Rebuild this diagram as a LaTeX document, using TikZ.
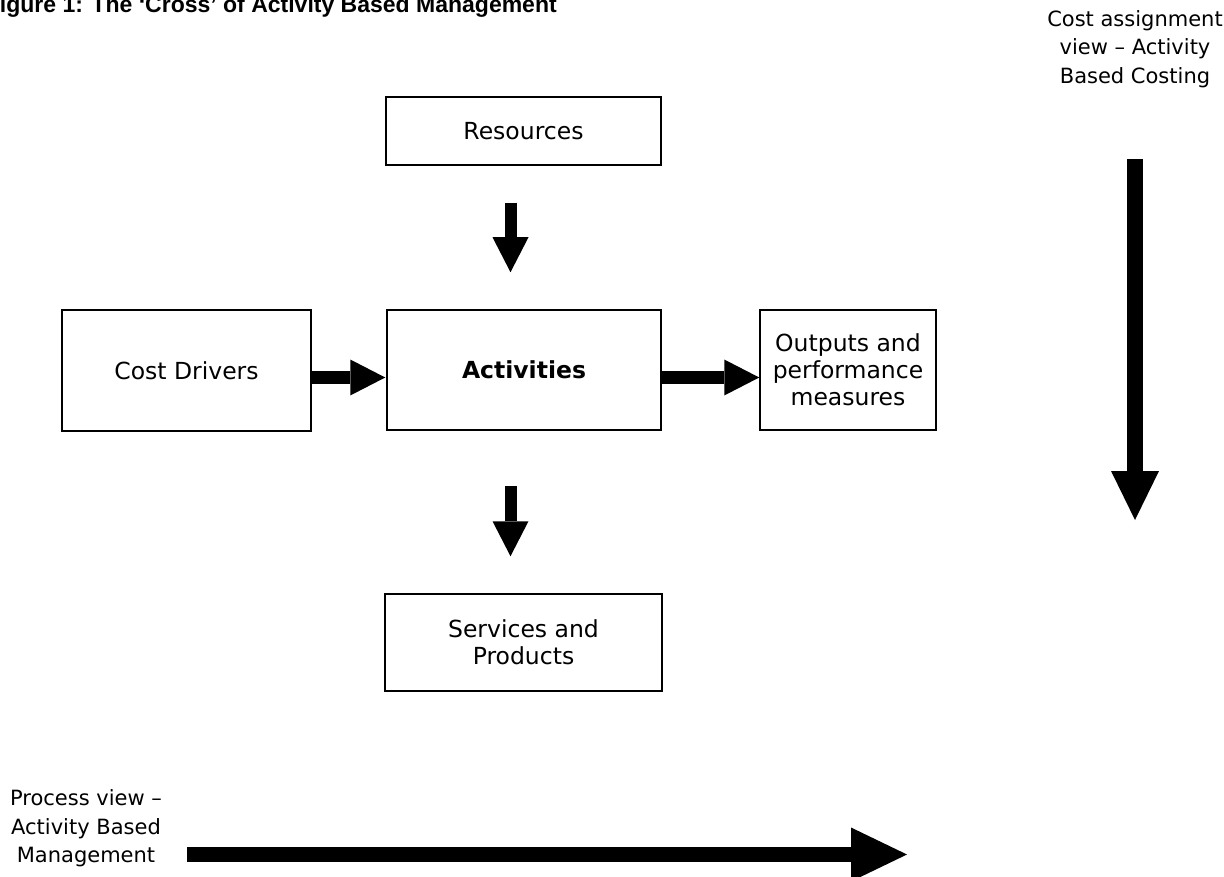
\documentclass[tikz,border=0pt]{standalone}
\usepackage{fontspec}
\setmainfont{DejaVu Sans}
\newfontfamily\titlefont{Liberation Sans}
\usetikzlibrary{arrows.meta}
\begin{document}
\begin{tikzpicture}[x=1pt,y=-1pt,
  box/.style={draw, line width=1.5pt, inner sep=0pt, align=center, font=\fontsize{23.5}{27}\selectfont},
  lbl/.style={inner sep=0pt, align=center, font=\fontsize{21}{28.5}\selectfont},
  flow/.style={line width=12pt, -{Triangle[width=36pt,length=35pt,line width=0pt]}},
  bigflow/.style={line width=16pt, -{Triangle[width=48pt,length=49pt,line width=0pt]}},
  longflow/.style={line width=15pt, -{Triangle[width=54pt,length=56pt,line width=0pt]}}]
\useasboundingbox (0,0) rectangle (1224,877);
\node[anchor=base west, inner sep=0pt, font=\titlefont\bfseries\fontsize{23}{27}\selectfont] (title) at (-14.3,13) {Figure 1: The ‘Cross’ of Activity Based Management};
\node[box, minimum width=275pt, minimum height=68pt] (res) at (523.5,131) {Resources};
\node[box, minimum width=249pt, minimum height=121pt] (cd) at (186.5,370.5) {Cost Drivers};
\node[box, minimum width=274pt, minimum height=120pt] (act) at (524,370) {\bfseries Activities};
\node[box, minimum width=176pt, minimum height=120pt] (out) at (848,370) {Outputs and\\performance\\measures};
\node[box, minimum width=277pt, minimum height=97pt] (srv) at (523.5,642.5) {Services and\\Products};
\draw[flow] ([xshift=-13pt,yshift=-37pt]res.south) -- ([xshift=-13.5pt,yshift=37pt]act.north);
\draw[flow] ([xshift=-13.5pt,yshift=-55pt]act.south) -- ([xshift=-13pt,yshift=37pt]srv.north);
\draw[flow] ([yshift=-7pt]cd.east) -- ([xshift=-1pt,yshift=-7.5pt]act.west);
\draw[flow] ([yshift=-7.5pt]act.east) -- ([yshift=-7.5pt]out.west);
\coordinate (ca1) at (1135,159);
\coordinate (ca2) at (1135,520);
\draw[bigflow] (ca1) -- (ca2);
\coordinate (pv1) at (187,854.5);
\coordinate (pv2) at (907,854.5);
\draw[longflow] (pv1) -- (pv2);
\node[lbl] (cav) at (1135,49) {Cost assignment\\view – Activity\\Based Costing};
\node[lbl] (pvl) at (86,828.6) {Process view –\\Activity Based\\Management};
\end{tikzpicture}
\end{document}
